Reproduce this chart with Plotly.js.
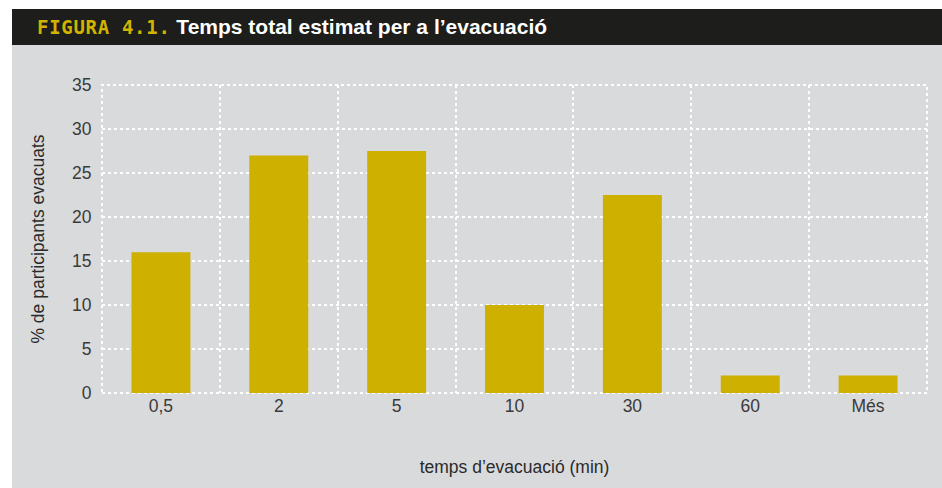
<!DOCTYPE html>
<html>
<head>
<meta charset="utf-8">
<script src="https://cdn.plot.ly/plotly-3.0.1.min.js"></script>
<style>
  html, body { margin: 0; padding: 0; background: #ffffff; }
  #chart { position: absolute; left: 12px; top: 9px; width: 930px; height: 479px; }
</style>
</head>
<body>
<div id="chart"></div>
<script>
const categories = ['0,5', '2', '5', '10', '30', '60', 'Més'];
const values = [16, 27, 27.5, 10, 22.5, 2, 2];
const yTickValues = [0, 5, 10, 15, 20, 25, 30, 35];

const W = 930, H = 479;
const M = { l: 90, r: 15, t: 76, b: 95 };
const pw = W - M.l - M.r, ph = H - M.t - M.b;
// header band in paper coords
const hx0 = -M.l / pw, hx1 = 1 + M.r / pw;
const hy1 = 1 + M.t / ph, hy0 = 1 + (M.t - 36) / ph;

const trace = {
  type: 'bar',
  x: categories,
  y: values,
  marker: { color: '#cdb000' },
  hoverinfo: 'x+y'
};

const layout = {
  width: W, height: H,
  margin: M,
  paper_bgcolor: '#d9dadc',
  plot_bgcolor: '#d9dadc',
  bargap: 0.5,
  showlegend: false,
  font: { family: 'Liberation Sans, Arial, sans-serif', color: '#3a3a3a' },
  title: {
    text: '<span style="font-family:\'DejaVu Sans Mono\';font-weight:bold;font-size:19px;letter-spacing:0.7px;color:#d2b300">FIGURA 4.1.</span> Temps total estimat per a l’evacuació',
    font: { family: 'Liberation Sans, Arial, sans-serif', size: 21, color: '#ffffff', weight: 'bold' },
    xref: 'container', yref: 'container',
    x: 25 / W, xanchor: 'left',
    y: 1 - 18 / H, yanchor: 'middle'
  },
  shapes: [{
    type: 'rect', xref: 'paper', yref: 'paper',
    x0: hx0, x1: hx1, y0: hy0, y1: hy1,
    fillcolor: '#1d1d1b', line: { width: 0 }, layer: 'below'
  }, {
    type: 'rect', xref: 'paper', yref: 'paper',
    x0: 0, x1: 1, y0: 0, y1: 1,
    fillcolor: 'rgba(0,0,0,0)', line: { width: 2, color: '#ffffff', dash: 'dot' }, layer: 'below'
  }],
  xaxis: {
    type: 'category',
    tickson: 'boundaries',
    showgrid: true,
    gridcolor: '#ffffff',
    griddash: 'dot',
    gridwidth: 2,
    ticks: '',
    showline: false,
    zeroline: false,
    tickfont: { size: 17.5, color: '#3a3a3a' },
    title: { text: 'temps d’evacuació (min)', font: { size: 17.5, color: '#2a2a2a' }, standoff: 46 }
  },
  yaxis: {
    range: [0, 35],
    tickvals: yTickValues,
    ticktext: yTickValues.map(String),
    showgrid: true,
    gridcolor: '#ffffff',
    griddash: 'dot',
    gridwidth: 2,
    zeroline: false,
    showline: false,
    ticks: 'outside',
    ticklen: 6,
    tickcolor: 'rgba(0,0,0,0)',
    tickfont: { size: 17.5, color: '#3a3a3a' },
    title: { text: '% de participants evacuats', font: { size: 17.5, color: '#2a2a2a' }, standoff: 22 }
  }
};

Plotly.newPlot('chart', [trace], layout, { displayModeBar: false, staticPlot: true });
</script>
</body>
</html>
